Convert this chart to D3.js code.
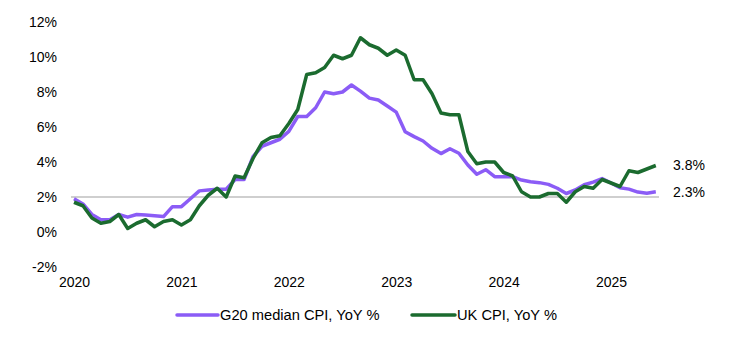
<!DOCTYPE html>
<html><head><meta charset="utf-8">
<script src="https://cdn.jsdelivr.net/npm/d3@7"></script>
<style>
body{margin:0;background:#fff;}
svg{display:block;font-family:"Liberation Sans",Arial,sans-serif;}
</style></head>
<body><svg id="c" width="729" height="342"></svg>
<script>
// Monthly categories: Feb 2020 .. Jul 2025
const months = [];
for (let y = 2020; y <= 2025; y++) for (let m = 1; m <= 12; m++) {
  if ((y === 2020 && m < 2) || (y === 2025 && m > 7)) continue;
  months.push(y + "-" + String(m).padStart(2, "0"));
}
const yearLabels = ["2020", "2021", "2022", "2023", "2024", "2025"];
const yTicks = [-2, 0, 2, 4, 6, 8, 10, 12];
const g20 = [1.9,1.6,1.0,0.7,0.7,1.0,0.85,1.0,0.97,0.93,0.88,1.45,
  1.45,1.9,2.35,2.4,2.45,2.45,3.0,3.0,4.3,4.9,5.1,5.3,
  5.75,6.6,6.6,7.1,8.0,7.9,8.0,8.4,8.05,7.65,7.54,7.2,
  6.85,5.73,5.45,5.2,4.78,4.48,4.76,4.5,3.83,3.3,3.56,3.16,
  3.16,3.16,2.97,2.87,2.82,2.72,2.5,2.2,2.4,2.7,2.85,3.05,
  2.8,2.53,2.45,2.28,2.22,2.3];
const uk = [1.7,1.5,0.8,0.5,0.6,1.0,0.2,0.5,0.7,0.3,0.6,
  0.7,0.4,0.7,1.5,2.1,2.5,2.0,3.2,3.1,4.2,5.1,5.4,
  5.5,6.2,7.0,9.0,9.1,9.4,10.1,9.9,10.1,11.1,10.7,10.5,
  10.1,10.4,10.1,8.7,8.7,7.9,6.8,6.7,6.7,4.6,3.9,4.0,
  4.0,3.4,3.2,2.3,2.0,2.0,2.2,2.2,1.7,2.3,2.6,2.5,
  3.0,2.8,2.6,3.5,3.4,3.6,3.8];
const target = 2;
const seriesNames = ["G20 median CPI, YoY %", "UK CPI, YoY %"];
const colors = ["#8b5cf6", "#1b6b2f"];

const svg = d3.select("#c");
const x = d3.scalePoint().domain(months).range([74, 655.8]);
const y = d3.scaleLinear().domain([-2, 12]).range([267, 22]);
const FS = "14px";

// y axis labels
const ya = svg.append("g").attr("transform", "translate(57,0)")
  .call(d3.axisLeft(y).tickValues(yTicks).tickSize(0).tickPadding(0).tickFormat(d => d + "%"));
ya.select(".domain").remove();
ya.selectAll("text").attr("font-size", FS).attr("fill", "#000")
  .attr("font-family", "Liberation Sans, Arial, sans-serif");

// x axis labels
const tickCats = months.filter((d, i) => i % 12 === 0);
const xa = svg.append("g").attr("transform", "translate(0,277)")
  .call(d3.axisBottom(x).tickValues(tickCats).tickSize(0).tickPadding(0)
    .tickFormat((d) => yearLabels[months.indexOf(d) / 12]));
xa.select(".domain").remove();
xa.selectAll("text").attr("font-size", FS).attr("fill", "#000")
  .attr("font-family", "Liberation Sans, Arial, sans-serif");

// 2% reference line
svg.append("line").attr("x1", 71).attr("x2", 659)
  .attr("y1", y(target)).attr("y2", y(target))
  .attr("stroke", "#bfbfbf").attr("stroke-width", 1.5);

const line = d3.line().x((d, i) => x(months[i])).y(d => y(d));
[g20, uk].forEach((s, k) => {
  svg.append("path").datum(s).attr("d", line).attr("fill", "none")
    .attr("stroke", colors[k]).attr("stroke-width", 3.5)
    .attr("stroke-linejoin", "round");
});

// end labels
[uk, g20].forEach(s => {
  const v = s[s.length - 1];
  svg.append("text").attr("x", 673).attr("y", y(v)).attr("dy", "0.35em")
    .attr("font-size", FS).attr("fill", "#000").text(v.toFixed(1) + "%");
});

// legend
const leg = [{x0: 177, x1: 218, tx: 220}, {x0: 412, x1: 455, tx: 457}];
leg.forEach((l, k) => {
  svg.append("line").attr("x1", l.x0).attr("x2", l.x1).attr("y1", 315).attr("y2", 315)
    .attr("stroke", colors[k]).attr("stroke-width", 3.5).attr("stroke-linecap", "round");
  svg.append("text").attr("x", l.tx).attr("y", 315).attr("dy", "0.35em")
    .attr("font-size", "14.67px").attr("fill", "#000").text(seriesNames[k]);
});
</script></body></html>
